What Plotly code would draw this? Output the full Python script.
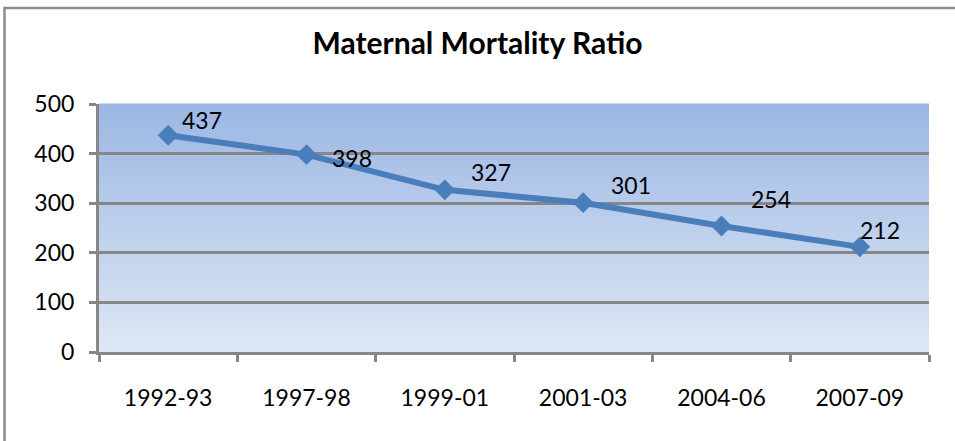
import plotly.graph_objects as go

# ---- data ----
periods = ["1992-93", "1997-98", "1999-01", "2001-03", "2004-06", "2007-09"]
mmr = [437, 398, 327, 301, 254, 212]
y_ticks = [0, 100, 200, 300, 400, 500]

# ---- style ----
W, H = 955, 441
ML, MR, MT, MB = 99, 26, 104, 89
PW, PH = W - ML - MR, H - MT - MB
LINE_BLUE = "#4a7ebb"
GRID = "#878787"
FONT = "Lato"
# label offsets (px) relative to each point, as placed in the original
lab_dx = [34, 45, 46, 48, 49, 20]
lab_dy = [15, -3, 18, 18, 27, 17]

fig = go.Figure()
fig.add_trace(go.Scatter(
    x=periods, y=mmr, mode="lines+markers",
    line=dict(color=LINE_BLUE, width=6),
    marker=dict(symbol="diamond", size=16, color=LINE_BLUE),
    hoverinfo="x+y", showlegend=False,
))

for i, (p, v) in enumerate(zip(periods, mmr)):
    fig.add_annotation(x=p, y=v, text=str(v), showarrow=False,
                       xshift=lab_dx[i], yshift=lab_dy[i],
                       font=dict(family=FONT, size=23, color="#000000"))

shapes = []
# gradient background of plot area
top_c = (156, 183, 228)
bot_c = (222, 231, 244)
N = 62
for i in range(N):
    t = i / (N - 1)
    c = tuple(round(bot_c[k] + (top_c[k] - bot_c[k]) * t) for k in range(3))
    shapes.append(dict(type="rect", xref="paper", yref="paper",
                       x0=0, x1=1, y0=i / N, y1=(i + 1) / N + 0.002,
                       fillcolor="rgb(%d,%d,%d)" % c, line=dict(width=0),
                       layer="below"))
# outer chart border (left and top edges visible)
bx0 = (4.5 - ML) / PW
bx1 = (W + 10 - ML) / PW
by1 = (H - MB - 8) / PH
by0 = (H - MB - (H + 10)) / PH
shapes.append(dict(type="rect", xref="paper", yref="paper",
                   x0=bx0, x1=bx1, y0=by0, y1=by1,
                   line=dict(color="#8c8c8c", width=2.5),
                   fillcolor="rgba(0,0,0,0)", layer="below"))

fig.update_layout(
    width=W, height=H,
    margin=dict(l=ML, r=MR, t=MT, b=MB),
    paper_bgcolor="white", plot_bgcolor="rgba(0,0,0,0)",
    shapes=shapes,
    title=dict(text="<b>Maternal Mortality Ratio</b>", x=0.5, xref="container",
               y=1 - 43 / H, yref="container", yanchor="middle", xanchor="center",
               font=dict(family=FONT, size=30, color="#000000")),
    font=dict(family=FONT, size=23, color="#000000"),
    xaxis=dict(type="category", range=[-0.5, 5.5], tickson="boundaries",
               ticks="outside", ticklen=7, tickwidth=3, tickcolor=GRID,
               showline=True, linecolor=GRID, linewidth=3,
               showgrid=False, zeroline=False,
               tickfont=dict(family=FONT, size=23, color="#000000"),
               ticklabelstandoff=23),
    yaxis=dict(range=[0, 500], tickvals=y_ticks, ticks="outside", ticklen=7,
               tickwidth=3, tickcolor=GRID, showline=True, linecolor=GRID,
               linewidth=3, showgrid=True, gridcolor=GRID, gridwidth=3,
               zeroline=False,
               tickfont=dict(family=FONT, size=23, color="#000000"),
               ticklabelstandoff=10),
)

fig.write_html("out.html", config={"displayModeBar": False})

# remove the browser's default page margin so the figure sits at (0, 0)
with open("out.html", "r", encoding="utf-8") as f:
    html = f.read()
html = html.replace("<head>", "<head><style>html,body{margin:0;padding:0;overflow:hidden}</style>", 1)
with open("out.html", "w", encoding="utf-8") as f:
    f.write(html)
